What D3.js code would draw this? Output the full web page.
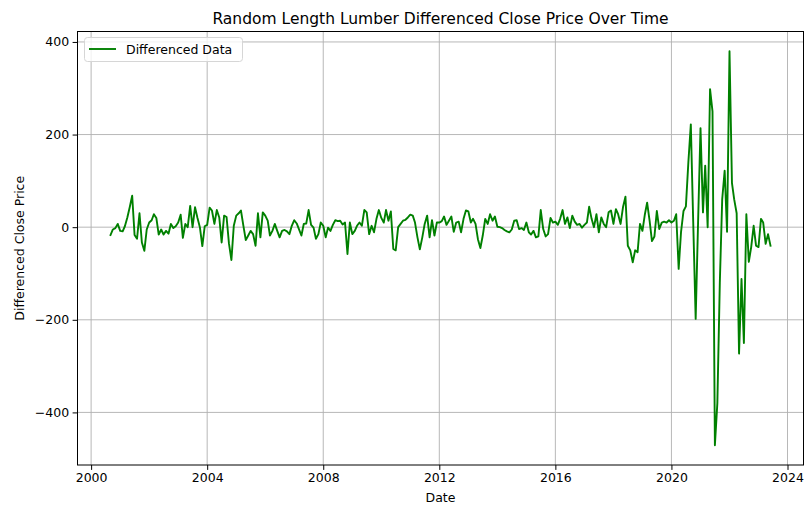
<!DOCTYPE html>
<html>
<head>
<meta charset="utf-8">
<script src="https://cdn.jsdelivr.net/npm/d3@7"></script>
<style>
  html, body { margin: 0; padding: 0; background: #ffffff; }
  svg { display: block; font-family: "DejaVu Sans", sans-serif; }
</style>
</head>
<body>
<svg id="chart" width="804" height="508"></svg>
<script>
// ---- Data (monthly differenced close price, starting Sep 2000) ----
const startYear = 2000;
const startMonth = 8; // September (0-based)
const diffValues = [
  -17, -5, -2, 7, -8, -9, 2, 21, 43, 68,
  -17, -25, 30, -33, -51, -5, 10, 15, 28, 20,
  -16, -5, -16, -8, -14, 7, -2, 2, 10, 27,
  -23, 7, 0, 46, 0, 43, 20, 0, -41, 2,
  5, 42, 36, 7, 37, 21, -33, 25, 22, -35,
  -71, 3, 25, 30, 36, 3, -28, -18, -8, -15,
  -40, 30, -22, 32, 25, 14, -18, -8, 7, -8,
  -22, -8, -6, -9, -15, 3, 15, 8, -4, -18,
  7, 8, 37, 5, -1, -25, -15, 10, 3, -22,
  -1, -8, 5, 15, 13, 14, 6, 10, -58, 10,
  -15, -8, 3, 10, 3, 37, 32, -15, 3, -11,
  18, 37, 20, 10, 37, 14, 34, -47, -50, 0,
  7, 14, 16, 21, 27, 25, 10, -22, -48, -22,
  7, 25, -22, 15, -18, 10, 10, 13, 23, 5,
  14, 23, -10, 10, 12, -11, 18, 36, 34, 10,
  18, 7, -26, -45, -18, 18, 7, 28, 14, 23,
  1, 0, -2, -6, -9, -11, -5, 14, 15, -4,
  -2, -6, 10, -11, -16, -8, -22, -20, 37, -4,
  -20, -15, 20, 10, 12, 5, 18, 37, 7, 21,
  -2, 25, 12, 5, 7, -1, 5, 10, 44, 18,
  0, 28, -11, 21, 7, 0, 32, 36, 7, 39,
  28, 7, 43, 66, -40, -50, -76, -50, -54, 7,
  -8, 28, 53, 14, -30, -20, 35, -4, 10, 12,
  10, 15, 10, 14, 28, -90, -10, 35, 45, 140,
  222, 12, -198, 8, 214, 32, 133, 0, 298, 250,
  -471, -380, -120, 60, 122, -10, 380, 95, 60, 30,
  -273, -112, -250, 28, -75, -43, 3, -40, -43, 18,
  10, -36, -15, -40
];
const yTickValues = [-400, -200, 0, 200, 400];
const xTickYears = [2000, 2004, 2008, 2012, 2016, 2020, 2024];
const titleText = "Random Length Lumber Differenced Close Price Over Time";
const xLabelText = "Date";
const yLabelText = "Differenced Close Price";
const legendLabel = "Differenced Data";

const data = diffValues.map((v, i) => ({ date: new Date(startYear, startMonth + i, 1), value: v }));

// ---- Layout ----
const W = 804, H = 508;
const margin = { left: 77.5, right: 0.5, top: 31.5, bottom: 43 };
const innerL = margin.left, innerR = W - margin.right;
const innerT = margin.top, innerB = H - margin.bottom;

const svg = d3.select("#chart");

// matplotlib-like 5% margins
const t0 = data[0].date.getTime(), t1 = data[data.length - 1].date.getTime();
const tPad = (t1 - t0) * 0.05;
const x = d3.scaleTime()
  .domain([new Date(t0 - tPad), new Date(t1 + tPad)])
  .range([innerL, innerR]);

const vMin = d3.min(data, d => d.value), vMax = d3.max(data, d => d.value);
const vPad = (vMax - vMin) * 0.05;
const y = d3.scaleLinear()
  .domain([vMin - vPad, vMax + vPad])
  .range([innerB, innerT]);

const xTicks = xTickYears.map(yr => new Date(yr, 0, 1));

// grid
const grid = svg.append("g").attr("class", "grid");
grid.selectAll("line.vx").data(xTicks).enter().append("line")
  .attr("x1", d => x(d)).attr("x2", d => x(d))
  .attr("y1", innerT).attr("y2", innerB)
  .attr("stroke", "#b0b0b0").attr("stroke-width", 0.9);
grid.selectAll("line.hy").data(yTickValues).enter().append("line")
  .attr("x1", innerL).attr("x2", innerR)
  .attr("y1", d => y(d)).attr("y2", d => y(d))
  .attr("stroke", "#b0b0b0").attr("stroke-width", 0.9);

// line
const line = d3.line().x(d => x(d.date)).y(d => y(d.value));
svg.append("path").datum(data)
  .attr("d", line)
  .attr("fill", "none")
  .attr("stroke", "#008000")
  .attr("stroke-width", 1.9)
  .attr("stroke-linejoin", "round")
  .attr("stroke-linecap", "square");

// axes
const fmtMinus = v => (v < 0 ? "\u2212" + Math.abs(v) : String(v));
const xAxis = d3.axisBottom(x).tickValues(xTicks).tickFormat(d3.timeFormat("%Y")).tickSizeOuter(0).tickSize(4.9).tickPadding(3.5);
const yAxis = d3.axisLeft(y).tickValues(yTickValues).tickFormat(fmtMinus).tickSizeOuter(0).tickSize(4.9).tickPadding(3.5);

const gx = svg.append("g").attr("transform", `translate(0,${innerB})`).call(xAxis);
const gy = svg.append("g").attr("transform", `translate(${innerL},0)`).call(yAxis);
[gx, gy].forEach(g => {
  g.select(".domain").remove();
  g.selectAll(".tick line").attr("stroke", "#000").attr("stroke-width", 1);
  g.selectAll(".tick text").attr("fill", "#000").style("font-size", "12.5px").style("font-family", "DejaVu Sans, sans-serif");
});

// spines
svg.append("rect")
  .attr("x", innerL).attr("y", innerT)
  .attr("width", innerR - innerL).attr("height", innerB - innerT)
  .attr("fill", "none").attr("stroke", "#000").attr("stroke-width", 1);

// title and labels
svg.append("text").attr("x", (innerL + innerR) / 2).attr("y", 24)
  .attr("text-anchor", "middle").style("font-size", "15.5px").attr("fill", "#000").text(titleText);
svg.append("text").attr("x", (innerL + innerR) / 2).attr("y", 502)
  .attr("text-anchor", "middle").style("font-size", "12.5px").attr("fill", "#000").text(xLabelText);
svg.append("text").attr("transform", `translate(24,${(innerT + innerB) / 2}) rotate(-90)`)
  .attr("text-anchor", "middle").style("font-size", "12.5px").attr("fill", "#000").text(yLabelText);

// legend
const lg = svg.append("g");
lg.append("rect").attr("x", 84.5).attr("y", 37.5).attr("width", 158).attr("height", 24)
  .attr("rx", 3).attr("fill", "#fff").attr("fill-opacity", 0.8)
  .attr("stroke", "#d6d6d6").attr("stroke-width", 1);
lg.append("line").attr("x1", 89).attr("x2", 116).attr("y1", 49).attr("y2", 49)
  .attr("stroke", "#008000").attr("stroke-width", 1.9);
lg.append("text").attr("x", 126).attr("y", 53.5).style("font-size", "12.5px").attr("fill", "#000").text(legendLabel);
</script>
</body>
</html>
